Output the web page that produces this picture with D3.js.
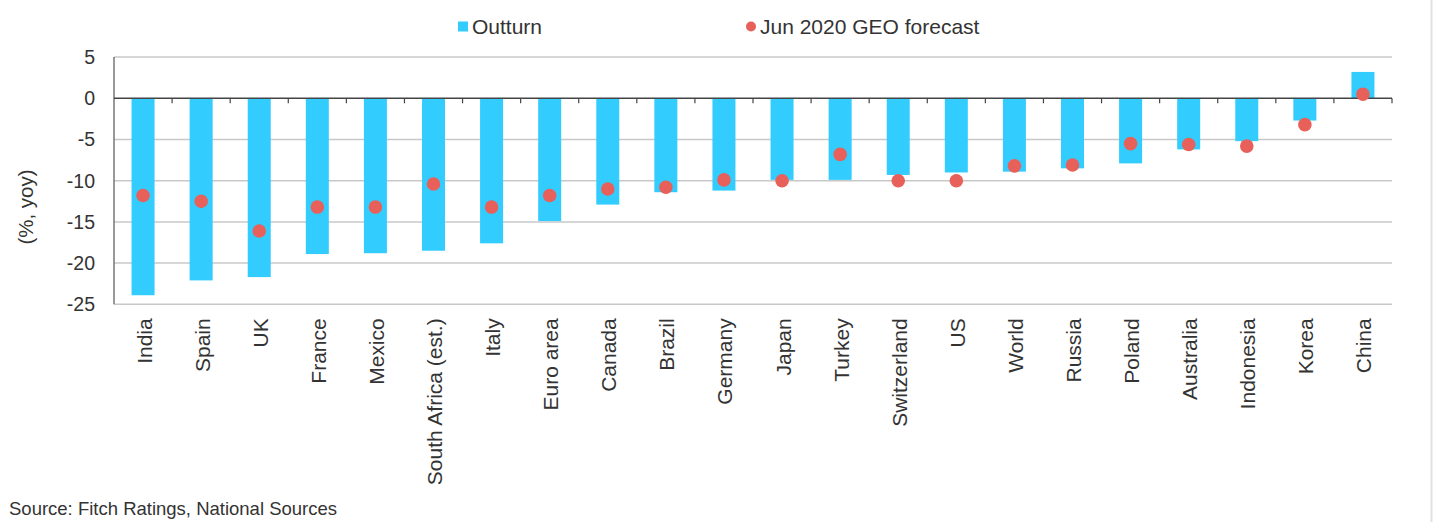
<!DOCTYPE html>
<html>
<head>
<meta charset="utf-8">
<script src="https://cdn.jsdelivr.net/npm/d3@7"></script>
<style>
	body { margin: 0; background: #fff; }
	text { font-family: "Liberation Sans", Arial, sans-serif; fill: #333; }
</style>
</head>
<body>
<svg id="chart" width="1437" height="522"></svg>
<script>
var countries = ["India", "Spain", "UK", "France", "Mexico", "South Africa (est.)", "Italy", "Euro area",
	"Canada", "Brazil", "Germany", "Japan", "Turkey", "Switzerland", "US", "World", "Russia", "Poland",
	"Australia", "Indonesia", "Korea", "China"];
var outturn = [-23.9, -22.1, -21.7, -18.9, -18.8, -18.5, -17.6, -14.9, -12.9, -11.4, -11.2, -9.9,
	-9.9, -9.3, -9.0, -8.9, -8.5, -7.9, -6.2, -5.2, -2.7, 3.2];
var forecast = [-11.8, -12.5, -16.1, -13.2, -13.2, -10.4, -13.2, -11.8, -11.0, -10.8, -9.9, -10.0,
	-6.8, -10.0, -10.0, -8.2, -8.1, -5.5, -5.6, -5.8, -3.2, 0.5];
var yTicks = [5, 0, -5, -10, -15, -20, -25];

document.addEventListener("DOMContentLoaded", init)

function init() {
	var svg = d3.select("#chart");
	var left = 114, right = 1392, top = 57.1, bottom = 304.3;

	var x = d3.scaleBand().domain(countries).range([left, right]);
	var y = d3.scaleLinear().domain([-25, 5]).range([bottom, top]);

	// frame line on the right
	svg.append("line")
	   .attr("x1", 1431.5).attr("x2", 1431.5)
	   .attr("y1", 0).attr("y2", 522)
	   .style("stroke", "#e0e0e0").style("stroke-width", 2);

	// gridlines
	svg.append("g")
	   .selectAll("line")
	   .data(yTicks.filter(d=>d != 0))
	   .enter()
	   .append("line")
	   .attr("x1", left).attr("x2", right)
	   .attr("y1", d=>y(d)).attr("y2", d=>y(d))
	   .style("stroke", "#c8c8c8").style("stroke-width", 1.5);

	// y axis labels
	svg.append("g")
	   .selectAll("text")
	   .data(yTicks)
	   .enter()
	   .append("text")
	   .attr("x", 95)
	   .attr("y", d=>y(d))
	   .attr("dy", "0.35em")
	   .attr("text-anchor", "end")
	   .style("font-size", "19.5px")
	   .text(d=>d);

	svg.append("text")
	   .attr("transform", "translate(33,207) rotate(-90)")
	   .attr("text-anchor", "middle")
	   .style("font-size", "20.5px")
	   .text("(%, yoy)");

	// bars
	svg.append("g")
	   .selectAll("rect")
	   .data(countries)
	   .enter()
	   .append("rect")
	   .attr("x", d=>x(d) + x.bandwidth() / 2 - 11.5)
	   .attr("width", 23)
	   .attr("y", (d, i)=>y(Math.max(0, outturn[i])))
	   .attr("height", (d, i)=>Math.abs(y(outturn[i]) - y(0)))
	   .style("fill", "#33ccff");

	// left axis line
	svg.append("line")
	   .attr("x1", left).attr("x2", left)
	   .attr("y1", top).attr("y2", bottom)
	   .style("stroke", "#777").style("stroke-width", 1.5);

	// zero line with ticks between categories
	svg.append("line")
	   .attr("x1", left).attr("x2", right)
	   .attr("y1", y(0)).attr("y2", y(0))
	   .style("stroke", "#444").style("stroke-width", 1.5);
	svg.append("g")
	   .selectAll("line")
	   .data(countries.slice(1).concat(["_end"]))
	   .enter()
	   .append("line")
	   .attr("x1", d=>d == "_end" ? right : x(d))
	   .attr("x2", d=>d == "_end" ? right : x(d))
	   .attr("y1", y(0)).attr("y2", y(0) + 5)
	   .style("stroke", "#444").style("stroke-width", 1.2);

	// forecast dots
	svg.append("g")
	   .selectAll("circle")
	   .data(countries)
	   .enter()
	   .append("circle")
	   .attr("cx", d=>x(d) + x.bandwidth() / 2)
	   .attr("cy", (d, i)=>y(forecast[i]))
	   .attr("r", 6.8)
	   .style("fill", "#e8605a");

	// category labels
	svg.append("g")
	   .selectAll("text")
	   .data(countries)
	   .enter()
	   .append("text")
	   .attr("transform", d=>"translate(" + (x(d) + x.bandwidth() / 2 + 8.5) + "," + (bottom + 14) + ") rotate(-90)")
	   .attr("text-anchor", "end")
	   .style("font-size", "21px")
	   .text(d=>d);

	// legend
	var legend = svg.append("g");
	legend.append("rect")
	      .attr("x", 458).attr("y", 21.5).attr("width", 10).attr("height", 10)
	      .style("fill", "#33ccff");
	legend.append("text")
	      .attr("x", 472).attr("y", 26.5).attr("dy", "0.35em")
	      .style("font-size", "21px")
	      .text("Outturn");
	legend.append("circle")
	      .attr("cx", 751).attr("cy", 26.5).attr("r", 5)
	      .style("fill", "#e8605a");
	legend.append("text")
	      .attr("x", 760).attr("y", 26.5).attr("dy", "0.35em")
	      .style("font-size", "21px")
	      .text("Jun 2020 GEO forecast");

	svg.append("text")
	   .attr("x", 9).attr("y", 515)
	   .style("font-size", "18.5px")
	   .text("Source: Fitch Ratings, National Sources");
}
</script>
</body>
</html>
